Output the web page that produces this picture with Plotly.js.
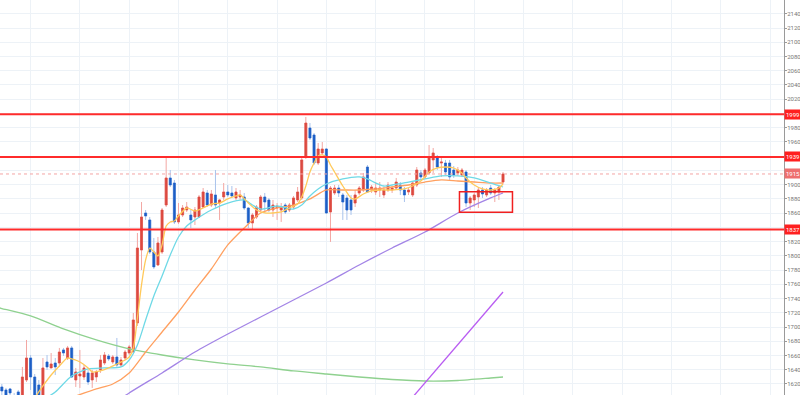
<!DOCTYPE html>
<html><head><meta charset="utf-8">
<script src="https://cdn.plot.ly/plotly-3.0.1.min.js"></script>
<style>html,body{margin:0;padding:0;background:#fff}#chart{width:800px;height:395px}</style>
</head><body><div id="chart"></div>
<script>
// candle index of the first bar (x positions are consecutive bar indices)
const firstIndex = 5;
const open = [1615.8,1611.6,1613.0,1603.1,1608.8,1600.3,1625.6,1656.5,1629.8,1618.6,
1597.5,1650.9,1642.5,1649.5,1649.5,1667.8,1656.5,1670.6,1625.6,1631.2,
1629.8,1635.5,1625.6,1629.8,1639.7,1649.5,1659.3,1650.9,1657.9,1646.7,
1656.5,1663.5,1664.9,1705.7,1808.2,1860.2,1850.4,1805.4,1787.2,1805.4,
1871.4,1909.4,1902.3,1847.6,1857.4,1864.4,1857.4,1854.6,1854.6,1868.6,
1888.3,1871.4,1885.5,1874.2,1882.7,1889.7,1888.3,1881.3,1882.7,1882.7,
1867.2,1846.2,1854.6,1864.4,1882.7,1878.5,1864.4,1867.2,1864.4,1871.4,
1864.4,1868.6,1878.5,1881.3,1938.9,1979.6,1969.8,1930.4,1944.5,1950.1,
1861.6,1888.3,1895.3,1885.5,1881.3,1878.5,1874.2,1888.3,1892.5,1924.8,
1892.5,1889.7,1892.5,1885.5,1892.5,1892.5,1895.3,1899.5,1892.5,1889.7,
1885.5,1899.5,1916.4,1910.8,1916.4,1934.7,1937.5,1930.4,1930.4,1930.4,
1920.6,1916.4,1913.6,1917.8,1874.2,1878.5,1882.7,1892.5,1885.5,1895.3,
1888.3,1889.7,1903.7];
const high = [1620.0,1614.4,1614.4,1607.4,1611.6,1643.9,1681.8,1660.7,1634.0,1625.6,
1656.5,1660.7,1663.5,1656.5,1670.6,1670.6,1673.4,1673.4,1642.5,1667.8,
1646.7,1639.7,1639.7,1639.7,1660.7,1664.9,1662.1,1660.7,1684.6,1657.9,
1667.8,1674.8,1719.7,1832.1,1875.6,1864.4,1854.6,1825.1,1826.5,1867.2,
1938.9,1920.6,1906.6,1874.2,1871.4,1875.6,1864.4,1868.6,1885.5,1895.3,
1892.5,1892.5,1920.6,1879.9,1902.3,1899.5,1898.1,1895.3,1892.5,1888.3,
1868.6,1860.2,1871.4,1885.5,1888.3,1881.3,1878.5,1874.2,1874.2,1874.2,
1874.2,1884.1,1896.7,1937.5,1995.1,1986.6,1972.6,1958.5,1959.9,1951.5,
1898.1,1899.5,1899.5,1888.3,1885.5,1885.5,1892.5,1898.1,1916.4,1927.6,
1899.5,1903.7,1903.7,1896.7,1903.7,1898.1,1909.4,1903.7,1896.7,1895.3,
1903.7,1924.8,1920.6,1923.4,1955.7,1951.5,1941.7,1938.9,1934.7,1934.7,
1926.2,1924.8,1923.4,1920.6,1884.1,1888.3,1895.3,1896.7,1895.3,1899.5,
1895.3,1899.5,1917.8];
const low = [1603.1,1594.7,1601.7,1591.9,1597.5,1597.5,1622.8,1611.6,1594.7,1590.5,
1594.7,1639.7,1642.5,1632.6,1643.9,1659.3,1653.7,1628.4,1615.8,1614.4,
1625.6,1618.6,1614.4,1622.8,1635.5,1646.7,1652.3,1648.1,1643.9,1643.9,
1653.7,1660.7,1663.5,1701.5,1780.1,1850.4,1802.6,1781.5,1785.8,1802.6,
1868.6,1896.7,1844.8,1844.8,1854.6,1861.6,1839.1,1843.3,1853.2,1867.2,
1868.6,1868.6,1867.2,1850.4,1878.5,1882.7,1881.3,1878.5,1878.5,1864.4,
1839.1,1837.7,1851.8,1861.6,1860.2,1861.6,1854.6,1850.4,1847.6,1858.8,
1861.6,1865.8,1875.6,1878.5,1936.1,1962.7,1927.6,1927.6,1941.7,1858.8,
1819.5,1885.5,1882.7,1850.4,1850.4,1857.4,1868.6,1885.5,1889.7,1888.3,
1888.3,1885.5,1882.7,1881.3,1889.7,1888.3,1892.5,1885.5,1875.6,1885.5,
1882.7,1896.7,1908.0,1908.0,1913.6,1916.4,1920.6,1910.8,1913.6,1906.6,
1909.4,1912.2,1910.8,1868.6,1864.4,1868.6,1867.2,1881.3,1882.7,1885.5,
1875.6,1878.5,1900.9];
const close = [1610.2,1600.3,1607.4,1597.5,1601.7,1629.8,1656.5,1629.8,1600.3,1597.5,
1642.5,1643.9,1648.1,1643.9,1664.9,1663.5,1670.6,1629.8,1636.9,1634.0,
1642.5,1622.8,1635.5,1636.9,1653.7,1660.7,1655.1,1657.9,1646.7,1653.7,
1664.9,1672.0,1709.9,1811.0,1854.6,1856.0,1805.4,1784.4,1818.1,1864.4,
1909.4,1899.5,1847.6,1857.4,1867.2,1868.6,1850.4,1864.4,1882.7,1889.7,
1871.4,1886.9,1871.4,1878.5,1889.7,1885.5,1884.1,1889.7,1885.5,1867.2,
1846.2,1857.4,1868.6,1882.7,1875.6,1864.4,1871.4,1870.0,1868.6,1861.6,
1871.4,1881.3,1889.7,1934.7,1986.6,1965.5,1930.4,1950.1,1950.1,1860.2,
1895.3,1895.3,1888.3,1875.6,1864.4,1864.4,1885.5,1895.3,1910.8,1889.7,
1896.7,1895.3,1895.3,1892.5,1899.5,1895.3,1903.7,1892.5,1885.5,1892.5,
1902.3,1920.6,1910.8,1920.6,1937.5,1944.5,1924.8,1931.8,1917.8,1910.8,
1913.6,1920.6,1920.6,1874.2,1881.3,1885.5,1892.5,1886.9,1892.5,1888.3,
1892.5,1896.7,1915.0];

// moving-average lines (bar index, value)
const yellowX = [13,15,17,19,21,22,24,26,27,29,31,33,35,36,37,38,39,40,41,42,43,44,45,46,47,48,50,52,54,56,58,60,62,63,65,67,69,71,73,75,77,78,79,80,81,82,83,84,85,86,88,90,91,93,95,97,100,103,105,107,109,111,113,115,117,118,120,122,124,126,127];
const yellowY = [1600.3,1617.2,1632.6,1645.3,1656.5,1655.1,1650.9,1642.5,1636.9,1638.3,1642.5,1648.1,1653.7,1657.9,1670.6,1712.7,1759.1,1794.2,1811.0,1805.4,1799.8,1815.3,1841.9,1847.6,1849.0,1856.0,1867.2,1863.0,1867.2,1872.8,1874.2,1879.9,1884.1,1885.5,1874.2,1864.4,1860.2,1860.2,1861.6,1867.2,1872.8,1882.7,1898.1,1917.8,1930.4,1940.3,1941.7,1938.9,1927.6,1917.8,1898.1,1881.3,1879.9,1886.9,1891.1,1892.5,1892.5,1893.9,1898.1,1905.1,1917.8,1923.4,1924.8,1923.4,1916.4,1909.4,1899.5,1893.9,1892.5,1895.3,1900.9];
const cyanX = [15,18,22,26,30,34,36,38,40,42,44,46,48,50,52,56,60,64,66,68,72,76,78,80,82,84,88,92,94,96,98,100,104,108,112,116,120,124,127];
const cyanY = [1597.5,1608.8,1631.2,1641.1,1642.5,1643.9,1653.7,1674.8,1709.9,1743.6,1771.7,1801.2,1826.5,1841.9,1850.4,1864.4,1874.2,1878.5,1871.4,1865.8,1870.0,1865.8,1871.4,1884.1,1893.9,1900.9,1908.0,1910.8,1908.0,1902.3,1898.1,1899.5,1903.7,1908.0,1912.2,1912.2,1909.4,1902.3,1896.7];
const orangeX = [23,28,32,36,40,44,48,52,56,60,64,68,72,76,80,84,88,92,96,100,104,108,112,116,120,124,127];
const orangeY = [1603.1,1613.0,1620.0,1635.5,1664.9,1693.0,1721.1,1752.0,1781.5,1815.3,1839.1,1860.2,1867.2,1871.4,1879.9,1892.5,1892.5,1892.5,1893.9,1896.7,1899.5,1903.7,1906.6,1905.1,1903.7,1902.3,1902.3];
const purpleX = [28,36,44,52,60,68,76,84,92,100,108,116,124,127];
const purpleY = [1576.5,1607.4,1635.5,1664.9,1690.2,1714.1,1738.0,1761.9,1787.2,1811.0,1833.5,1860.2,1881.3,1888.3];
const greenX = [4,5,12,20,28,36,44,52,60,68,76,84,92,100,108,116,124,127];
const greenY = [1727.5,1726.0,1715.5,1697.3,1681.8,1669.2,1660.7,1653.7,1648.1,1643.9,1638.3,1634.0,1629.8,1626.3,1624.2,1624.9,1628.4,1629.8];
const violetX = [104,127];
const violetY = [1594.7,1749.2];

// horizontal levels and annotations
const levels = [1999, 1939, 1837];
const lastPrice = 1915;
const boxX = [116.4, 129.3];
const boxY = [1861.2, 1890.1];
// price-axis tick labels (ones hidden behind the level tags are left blank)
const tickValues = [1620,1640,1660,1680,1700,1720,1740,1760,1780,1800,1820,1840,1860,1880,1900,1920,1940,1960,1980,2000,2020,2040,2060,2080,2100,2120,2140,2160];
const tickLabels = ['1620','1640','1660','1680','1700','1720','1740','1760','1780','1800','1820','','1860','1880','1900','','','1960','1980','','2020','2040','2060','2080','2100','2120','2140','2160'];

const x = open.map((_, k) => firstIndex + k);
const bodyHigh = open.map((o, k) => Math.max(o, close[k]));
const bodyLow = open.map((o, k) => Math.min(o, close[k]));

function line(xs, ys, color, w) {
  return {type:'scatter', mode:'lines', x:xs, y:ys, line:{color:color, width:w||1.3, shape:'spline', smoothing:0.7}, hoverinfo:'skip'};
}

const traces = [
  {type:'candlestick', x:x, open:open, high:high, low:low, close:close,
   increasing:{line:{color:'#f3a7a3', width:1}, fillcolor:'#f3a7a3'},
   decreasing:{line:{color:'#a9c3ec', width:1}, fillcolor:'#a9c3ec'}, whiskerwidth:0},
  {type:'candlestick', x:x, open:open, high:bodyHigh, low:bodyLow, close:close,
   increasing:{line:{color:'#dc4a40', width:0.5}, fillcolor:'#dc4a40'},
   decreasing:{line:{color:'#1d5fc6', width:0.5}, fillcolor:'#1d5fc6'}, whiskerwidth:0},
  line(greenX, greenY, '#8fd18f'),
  line(purpleX, purpleY, '#a384e6'),
  line(violetX, violetY, '#b95cf2'),
  line(orangeX, orangeY, '#ffa060'),
  line(cyanX, cyanY, '#6fd9e6'),
  line(yellowX, yellowY, '#ffc95a')
];

const shapes = levels.map(v => ({type:'line', xref:'paper', x0:0, x1:1, yref:'y', y0:v, y1:v, line:{color:'#ff2b2b', width:2}}));
shapes.push({type:'line', xref:'paper', x0:0, x1:1, yref:'y', y0:lastPrice, y1:lastPrice, line:{color:'#f4a4a4', width:1, dash:'dot'}});
shapes.push({type:'rect', xref:'x', yref:'y', x0:boxX[0], x1:boxX[1], y0:boxY[0], y1:boxY[1], line:{color:'#f02020', width:1.5}});

const tagFont = {color:'#ffffff', size:6, family:'Roboto'};
const annotations = levels.map(v => ({xref:'paper', x:1, xanchor:'left', yref:'y', y:v, yanchor:'middle', text:String(v), showarrow:false, bgcolor:'#ff2020', borderpad:1, font:tagFont}));
annotations.push({xref:'paper', x:1, xanchor:'left', yref:'y', y:lastPrice, yanchor:'middle', text:String(lastPrice), showarrow:false, bgcolor:'#ee6f6f', borderpad:1, font:tagFont});

const layout = {
  width:800, height:395, margin:{l:0, r:16, t:0, b:0, pad:0},
  paper_bgcolor:'#ffffff', plot_bgcolor:'#ffffff', showlegend:false,
  xaxis:{range:[4.55,195.4], tick0:0, dtick:12, showticklabels:false, showgrid:true, gridcolor:'#edf2f7', zeroline:false, showline:false, rangeslider:{visible:false}, fixedrange:true},
  yaxis:{side:'right', range:[1604.5,2159.4], tickmode:'array', tickvals:tickValues, ticktext:tickLabels, showgrid:true, gridcolor:'#edf2f7', zeroline:false, showline:true, linecolor:'#9a9a9a', linewidth:1, ticks:'outside', ticklen:2, tickcolor:'#9a9a9a', ticklabelstandoff:-1, tickfont:{size:6, color:'#777777', family:'Roboto'}, fixedrange:true},
  shapes:shapes, annotations:annotations
};

Plotly.newPlot('chart', traces, layout, {displayModeBar:false, staticPlot:true});
</script></body></html>
